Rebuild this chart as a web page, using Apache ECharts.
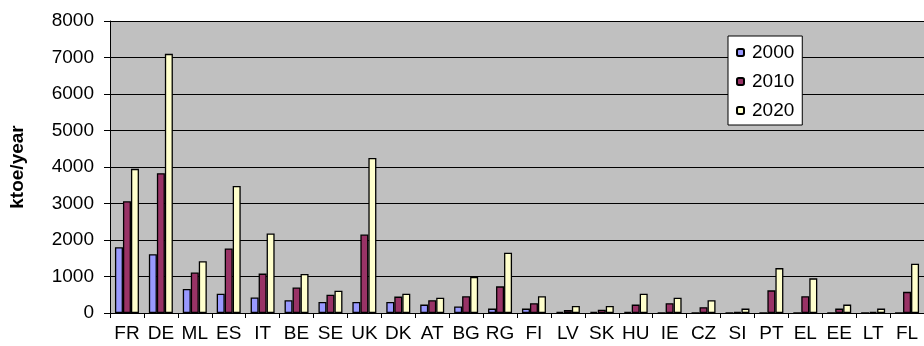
<!DOCTYPE html>
<html>
<head>
<meta charset="utf-8">
<script src="https://cdn.jsdelivr.net/npm/echarts@6/dist/echarts.min.js"></script>
<style>
  html, body { margin: 0; padding: 0; background: #ffffff; }
  #chart { width: 924px; height: 346px; }
</style>
</head>
<body>
<div id="chart"></div>
<script>
// Countries on the category axis
const categories = ['FR','DE','ML','ES','IT','BE','SE','UK','DK','AT','BG','RG','FI','LV','SK','HU','IE','CZ','SI','PT','EL','EE','LT','FL'];

// ktoe/year per country
const values2000 = [1800,1610,660,530,425,350,300,300,300,230,180,120,120,30,30,30,0,0,0,0,0,0,0,0];
const values2010 = [3060,3830,1110,1770,1080,700,500,2150,450,350,460,730,270,80,90,230,270,160,30,620,460,120,30,580];
const values2020 = [3950,7100,1420,3480,2180,1070,610,4250,530,420,990,1650,460,190,190,530,420,350,120,1230,950,230,120,1350];

// y-axis ticks
const yTicks = ['0','1000','2000','3000','4000','5000','6000','7000','8000'];

const font = 'Arial, "Liberation Sans", sans-serif';

const chart = echarts.init(document.getElementById('chart'), null, { renderer: 'canvas' });

function barSeries(name, data, color) {
  return {
    name: name,
    type: 'bar',
    data: data,
    barWidth: 8,
    barGap: '0%',
    itemStyle: { color: color, borderColor: '#000000', borderWidth: 1.3 },
    emphasis: { disabled: true },
    animation: false
  };
}

chart.setOption({
  animation: false,
  backgroundColor: '#ffffff',
  grid: {
    left: 110,
    top: 21,
    width: 816,
    height: 292,
    show: true,
    backgroundColor: '#c0c0c0',
    borderWidth: 0
  },
  legend: {
    data: ['2000', '2010', '2020'],
    orient: 'vertical',
    left: 728,
    top: 36,
    padding: [7, 8, 5, 8],
    itemGap: 10,
    itemWidth: 7,
    itemHeight: 7,
    backgroundColor: '#ffffff',
    borderColor: '#000000',
    borderWidth: 1,
    borderRadius: 0,
    selectedMode: false,
    textStyle: { fontFamily: font, fontSize: 19, color: '#000000', lineHeight: 19, padding: [0, 0, 0, 3] }
  },
  xAxis: {
    type: 'category',
    data: categories,
    axisLine: { show: true, lineStyle: { color: '#000000', width: 1 } },
    axisTick: { show: true, length: 5, lineStyle: { color: '#000000' } },
    axisLabel: { interval: 0, margin: 11, fontFamily: font, fontSize: 19, color: '#000000' },
    splitLine: { show: false }
  },
  yAxis: {
    type: 'value',
    min: 0,
    max: 8000,
    interval: 1000,
    name: 'ktoe/year',
    nameLocation: 'middle',
    nameGap: 83,
    nameRotate: 90,
    nameTextStyle: { fontFamily: font, fontSize: 19, fontWeight: 'bold', color: '#000000' },
    axisLine: { show: true, lineStyle: { color: '#000000', width: 1 } },
    axisTick: { show: true, length: 6, lineStyle: { color: '#000000' } },
    axisLabel: {
      margin: 16,
      fontFamily: font,
      fontSize: 19,
      color: '#000000',
      formatter: function (v) { return yTicks[Math.round(v / 1000)]; }
    },
    splitLine: { show: true, lineStyle: { color: '#000000', width: 1 } }
  },
  series: [
    barSeries('2000', values2000, '#9999ff'),
    barSeries('2010', values2010, '#993366'),
    barSeries('2020', values2020, '#ffffcc')
  ]
});
</script>
</body>
</html>
